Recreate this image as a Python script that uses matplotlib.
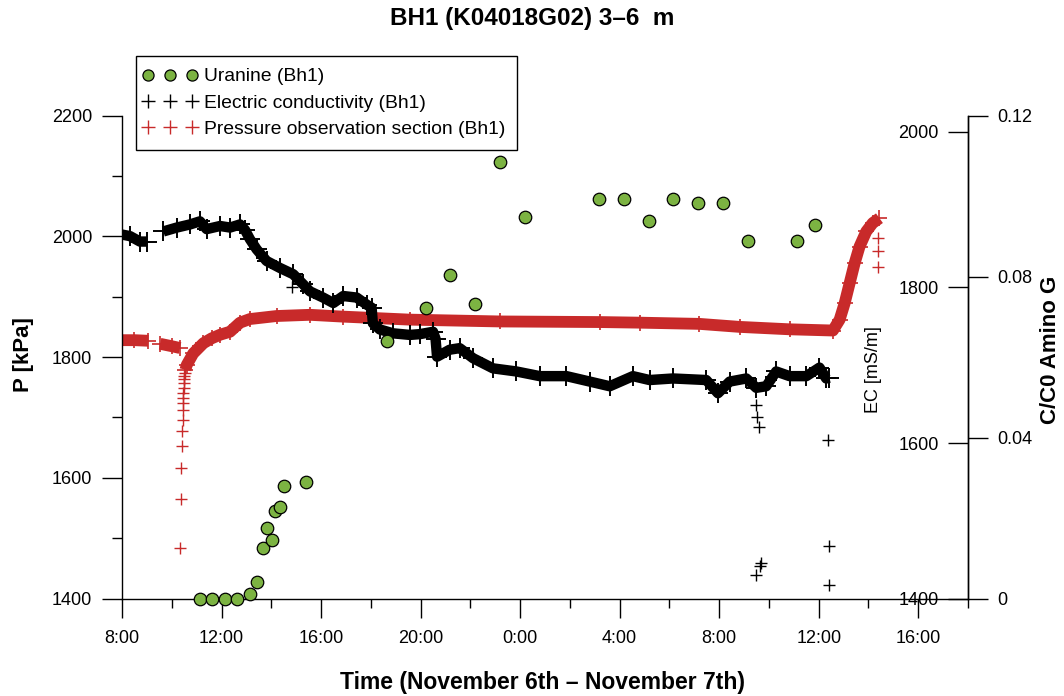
import numpy as np
import matplotlib.pyplot as plt
from matplotlib.lines import Line2D
from matplotlib.legend_handler import HandlerLine2D
from matplotlib.ticker import MultipleLocator, FuncFormatter

plt.rcParams['font.family'] = ['Liberation Sans', 'DejaVu Sans']

RED = '#c82a2a'
GREEN = '#7cb342'

# time axis in clock hours counted from Nov 6 00:00 (24 = midnight Nov 7)
tick_hours = [8, 12, 16, 20, 24, 28, 32, 36, 40]
tick_labels = ['8:00', '12:00', '16:00', '20:00', '0:00', '4:00', '8:00', '12:00', '16:00']

# Uranine, C/C0
uranine_t = [11.13, 11.63, 12.14, 12.63, 13.14, 13.41, 13.67, 13.84, 14.01, 14.14,
             14.35, 14.51, 15.38, 18.65, 20.21, 21.20, 22.20, 23.19, 24.18, 27.17,
             28.16, 29.16, 30.16, 31.16, 32.15, 33.15, 35.14, 35.86]
uranine_c = [0, 0, 0, 0, 0.0011, 0.0042, 0.0125, 0.0176, 0.0146, 0.0218,
             0.0228, 0.0280, 0.0290, 0.0640, 0.0723, 0.0805, 0.0733, 0.1084, 0.0949, 0.0993,
             0.0993, 0.0939, 0.0993, 0.0983, 0.0983, 0.0888, 0.0888, 0.0929]

# pressure in observation section, kPa
p_t1 = [8.0, 8.5, 9.06]
p_v1 = [1828, 1828, 1827]
p_t2 = [9.53, 10.0, 10.33]
p_v2 = [1822, 1818, 1815]
p_drop_t = [10.34, 10.36, 10.37, 10.39, 10.41, 10.43, 10.44, 10.45, 10.46, 10.47,
            10.48, 10.49, 10.50, 10.51, 10.52]
p_drop_v = [1484, 1565, 1616, 1652, 1677, 1696, 1713, 1724, 1732, 1741,
            1749, 1757, 1764, 1769, 1774]
p_t3 = [10.55, 10.60, 10.86, 11.27, 11.60, 11.94, 12.34, 12.74, 13.14, 14.21,
        15.55, 16.88, 19.57, 23.18, 27.20, 28.80, 31.20, 32.82, 34.83, 36.57,
        36.84, 37.04, 37.24, 37.44, 37.64, 37.91, 38.17, 38.44]
p_v3 = [1779, 1787, 1806, 1823, 1831, 1837, 1842, 1857, 1863, 1868,
        1870, 1867, 1862, 1859, 1858, 1857, 1855, 1850, 1846, 1844,
        1862, 1889, 1922, 1955, 1983, 2008, 2022, 2030]
p_extra_t = [38.37, 38.37, 38.40]
p_extra_v = [1950, 1976, 1997]

# electric conductivity, mS/m
ec_t1 = [8.0, 8.32, 8.72, 8.99]
ec_v1 = [1868, 1866, 1859, 1859]
ec_t2 = [9.66, 10.20, 10.73, 11.13, 11.40, 11.94, 12.34, 12.74, 12.94, 13.14,
         13.41, 13.81, 14.35, 14.88, 15.28, 15.55, 16.08, 16.49, 16.89, 17.43,
         17.83, 18.03, 18.08, 18.36, 18.90, 19.57, 19.97, 20.50, 20.60, 20.66,
         21.17, 21.57, 22.11, 22.91, 23.85, 24.79, 25.86, 26.80, 27.60, 28.53,
         29.20, 30.14, 31.48, 31.95, 32.42, 33.09, 33.49, 33.89, 34.29, 34.83,
         35.50, 36.03, 36.30, 36.43]
ec_v2 = [1872, 1877, 1881, 1885, 1875, 1879, 1877, 1881, 1874, 1862,
         1849, 1834, 1825, 1817, 1804, 1795, 1787, 1780, 1789, 1787,
         1778, 1774, 1754, 1746, 1741, 1739, 1740, 1743, 1734, 1711,
         1720, 1722, 1709, 1696, 1692, 1686, 1686, 1679, 1673, 1686,
         1681, 1683, 1681, 1664, 1679, 1683, 1671, 1673, 1692, 1686,
         1686, 1697, 1683, 1684]
ec_extra_t = [14.82, 33.46, 33.49, 33.51, 33.59, 33.62, 33.69, 36.37, 36.41, 36.43]
ec_extra_v = [1800, 1430, 1649, 1634, 1620, 1442, 1446, 1604, 1468, 1417]

fig = plt.figure(figsize=(10.64, 6.96), dpi=100)
ax = fig.add_axes([0.1147, 0.1399, 0.7951, 0.6941])
ax_ec = ax.twinx()
ax_c = ax.twinx()

# pressure: dense logger records drawn as a thick band of crosses
for t, v in [(p_t1, p_v1), (p_t2, p_v2), (p_t3, p_v3)]:
    ax.plot(t, v, color=RED, lw=8.5, solid_capstyle='butt',
            marker='+', ms=11, mew=1.2)
ax.plot(p_drop_t + p_extra_t, p_drop_v + p_extra_v, ls='none', color=RED,
        marker='+', ms=8, mew=1.0)

for t, v in [(ec_t1, ec_v1), (ec_t2, ec_v2)]:
    ax_ec.plot(t, v, color='black', lw=7.5, solid_capstyle='butt',
               marker='+', ms=14, mew=1.4)
ax_ec.plot(ec_extra_t, ec_extra_v, ls='none', color='black',
           marker='+', ms=8, mew=1.0)

ax_c.plot(uranine_t, uranine_c, ls='none', marker='o', ms=9,
          mfc=GREEN, mec='black', mew=0.9, clip_on=False)

# shared x axis
ax.set_xlim(8, 42)
ax.set_xticks(tick_hours)
ax.set_xticklabels(tick_labels)
ax.xaxis.set_minor_locator(MultipleLocator(2))
ax.tick_params(axis='x', which='major', direction='out', length=13.7, width=1,
               labelsize=13, pad=9)
ax.tick_params(axis='x', which='minor', direction='out', length=6.5, width=1)

# left: pressure
ax.set_ylim(1400, 2200)
ax.yaxis.set_major_locator(MultipleLocator(200))
ax.yaxis.set_minor_locator(MultipleLocator(100))
ax.tick_params(axis='y', which='major', direction='out', length=14.4, width=1,
               labelsize=13, pad=7)
ax.tick_params(axis='y', which='minor', direction='out', length=7.2, width=1)

# right (inner ticks): EC
ax_ec.set_ylim(1400, 2021)
ax_ec.set_yticks([1400, 1600, 1800, 2000])
ax_ec.tick_params(axis='y', direction='in', length=14.4, width=1,
                  labelsize=13, pad=-21)
for lbl in ax_ec.get_yticklabels():
    lbl.set_horizontalalignment('right')

# right (outer ticks): C/C0
ax_c.set_ylim(0, 0.12)
ax_c.set_yticks([0, 0.04, 0.08, 0.12])
ax_c.yaxis.set_major_formatter(FuncFormatter(lambda v, _: f'{v:g}'))
ax_c.tick_params(axis='y', direction='out', length=14.4, width=1,
                 labelsize=13, pad=7)

for a in (ax, ax_ec, ax_c):
    a.spines['top'].set_visible(False)
    for s in a.spines.values():
        s.set_linewidth(1.0)
ax.spines['right'].set_visible(False)
for a in (ax_ec, ax_c):
    a.spines['left'].set_visible(False)
    a.spines['bottom'].set_visible(False)

fig.text(0.5, 0.974, 'BH1 (K04018G02) 3\u20136  m', ha='center', va='center',
         fontsize=17.5, fontweight='bold')
fig.text(543 / 1064, 1 - 682 / 696, 'Time (November 6th \u2013 November 7th)',
         ha='center', va='center', fontsize=16.5, fontweight='bold')
fig.text(23 / 1064, 1 - 355 / 696, 'P [kPa]', rotation=90, ha='center',
         va='center', fontsize=16, fontweight='bold')
fig.text(1050 / 1064, 1 - 350 / 696, 'C/C0 Amino G', rotation=90, ha='center',
         va='center', fontsize=16, fontweight='bold')
fig.text(874 / 1064, 1 - 370 / 696, 'EC [mS/m]', rotation=90, ha='center',
         va='center', fontsize=13)

handles = [
    Line2D([], [], ls='none', marker='o', ms=8, mfc=GREEN, mec='black', mew=0.9),
    Line2D([], [], ls='none', marker='+', ms=10, color='black', mew=1.0),
    Line2D([], [], ls='none', marker='+', ms=10, color=RED, mew=1.0),
]
labels = ['Uranine (Bh1)', 'Electric conductivity (Bh1)',
          'Pressure observation section (Bh1)']
leg = fig.legend(handles, labels, loc='upper left',
                 bbox_to_anchor=(136 / 1064, 1 - 56 / 696), borderaxespad=0,
                 numpoints=3, handlelength=2.28, handletextpad=0.62,
                 labelspacing=0.45, borderpad=0.62, fontsize=13.9,
                 fancybox=False, framealpha=1, edgecolor='black',
                 handler_map={Line2D: HandlerLine2D(marker_pad=0)})
leg.get_frame().set_linewidth(1.0)

fig.savefig('out.png', dpi=100)
